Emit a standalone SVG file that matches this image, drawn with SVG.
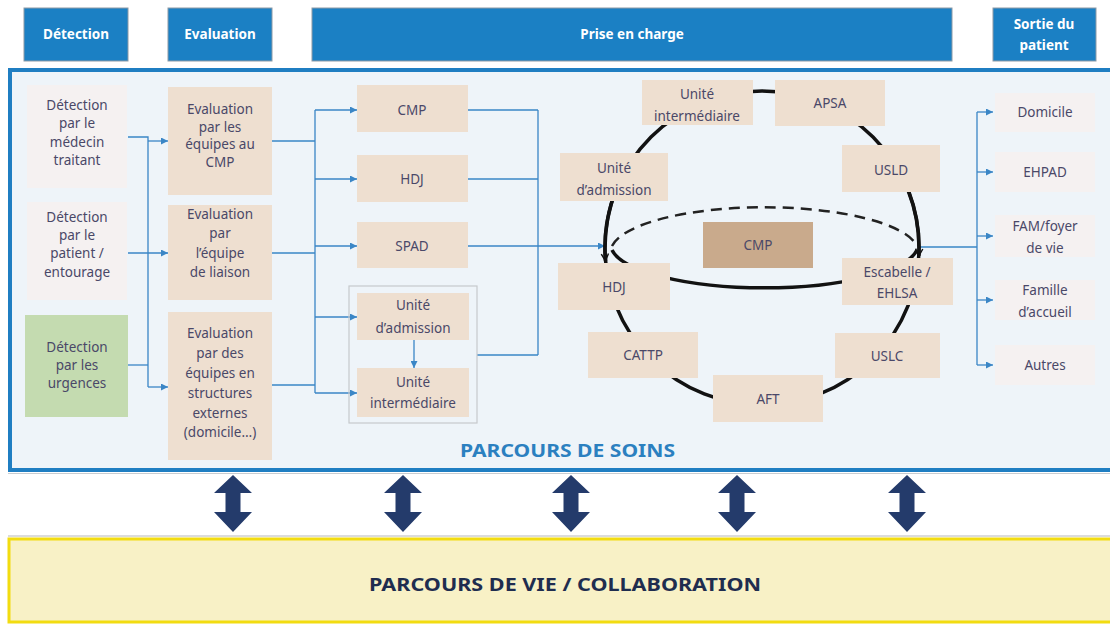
<svg xmlns="http://www.w3.org/2000/svg" width="1110" height="624" viewBox="0 0 1110 624">
<defs>
<style>
.hdr{fill:#1b80c4;stroke:#8d9aa6;stroke-width:1}
.ht{font-family:"Noto Sans",Lato,sans-serif;font-weight:bold;font-size:13.5px;fill:#ffffff;text-anchor:middle}
.tan{fill:#eedfd0}
.lite{fill:#f5f1f1}
.grn{fill:#c4dbb0}
.dark{fill:#c9aa8c}
.t{font-family:"Noto Sans",Lato,sans-serif;font-size:13.5px;fill:#4a4868;text-anchor:middle;dominant-baseline:central}
.c{fill:none;stroke:#3a86c6;stroke-width:1.3}
.ring{fill:none;stroke:#121212;stroke-width:3.5}
.dbl{fill:#243b6b}
</style>
<marker id="ab" viewBox="0 0 10 10" refX="10" refY="5" markerWidth="7" markerHeight="7" markerUnits="userSpaceOnUse" orient="auto">
<path d="M0,0 L10,5 L0,10 Z" fill="#3a86c6"/>
</marker>
<marker id="ak" viewBox="0 0 10 10" refX="9" refY="5" markerWidth="9" markerHeight="9" markerUnits="userSpaceOnUse" orient="auto">
<path d="M1,1 L9,5 L1,9" fill="none" stroke="#121212" stroke-width="1.6"/>
</marker>
</defs>
<rect width="1110" height="624" fill="#ffffff"/>

<g id="headers">
<rect class="hdr" x="24" y="8" width="104" height="53"/>
<text class="ht" x="76" y="39">Détection</text>
<rect class="hdr" x="168" y="8" width="104" height="53"/>
<text class="ht" x="220" y="39">Evaluation</text>
<rect class="hdr" x="312" y="8" width="640" height="53"/>
<text class="ht" x="632" y="39">Prise en charge</text>
<rect class="hdr" x="993" y="8" width="103" height="53"/>
<text class="ht" x="1044" y="29">Sortie du</text>
<text class="ht" x="1044" y="50">patient</text>
</g>

<g id="panel">
<rect x="10" y="70" width="1110" height="400" fill="#eef4f9" stroke="#1f7ec2" stroke-width="4"/>
<line x1="8" y1="473.5" x2="1110" y2="473.5" stroke="#c8ccd0" stroke-width="1"/>
<text x="460" y="457" font-family="'Noto Sans',Lato,sans-serif" font-weight="bold" font-size="17" fill="#2b80c0" textLength="215" lengthAdjust="spacingAndGlyphs">PARCOURS DE SOINS</text>
</g>

<g id="connectors">
<path class="c" d="M128,137 H148 V387"/>
<path class="c" d="M148,141 H168" marker-end="url(#ab)"/>
<path class="c" d="M128,253 H168" marker-end="url(#ab)"/>
<path class="c" d="M128,365 H148"/>
<path class="c" d="M148,387 H168" marker-end="url(#ab)"/>
<path class="c" d="M272,141 H315 M272,253 H315 M272,385 H315 M315,110 V393"/>
<path class="c" d="M315,110 H357" marker-end="url(#ab)"/>
<path class="c" d="M315,179 H357" marker-end="url(#ab)"/>
<path class="c" d="M315,246 H357" marker-end="url(#ab)"/>
<path class="c" d="M315,317 H357" marker-end="url(#ab)"/>
<path class="c" d="M315,393 H357" marker-end="url(#ab)"/>
<path class="c" d="M414,340 V368" marker-end="url(#ab)"/>
<path class="c" d="M468,110 H538 M468,179 H538 M477,355 H538 M538,110 V355"/>
<path class="c" d="M468,246 H605" marker-end="url(#ab)"/>
<path class="c" d="M920,247 H977 M977,112 V365"/>
<path class="c" d="M977,112 H993" marker-end="url(#ab)"/>
<path class="c" d="M977,172 H993" marker-end="url(#ab)"/>
<path class="c" d="M977,236 H993" marker-end="url(#ab)"/>
<path class="c" d="M977,300 H993" marker-end="url(#ab)"/>
<path class="c" d="M977,365 H993" marker-end="url(#ab)"/>
<circle class="ring" cx="762" cy="248" r="157"/>
<path class="ring" d="M612,201 A157,157 0 0 0 605.5,261" marker-end="url(#ak)"/>
<path class="ring" d="M909,192 A157,157 0 0 1 918.8,256" marker-end="url(#ak)"/>
<path d="M612,246 A154,45 0 0 1 917,246" fill="none" stroke="#222" stroke-width="2.5" stroke-dasharray="11 7"/>
<path class="ring" d="M612,250 A154,44 0 0 0 917,250"/>
</g>

<g id="det1"><rect class="lite" x="27" y="85" width="100" height="103"/>
<text class="t" x="77" y="105">Détection</text><text class="t" x="77" y="123">par le</text><text class="t" x="77" y="142">médecin</text><text class="t" x="77" y="160">traitant</text></g>
<g id="det2"><rect class="lite" x="27" y="202" width="100" height="98"/>
<text class="t" x="77" y="217">Détection</text><text class="t" x="77" y="235">par le</text><text class="t" x="77" y="253">patient /</text><text class="t" x="77" y="272">entourage</text></g>
<g id="det3"><rect class="grn" x="25" y="315" width="103" height="102"/>
<text class="t" x="77" y="347">Détection</text><text class="t" x="77" y="365">par les</text><text class="t" x="77" y="383">urgences</text></g>

<g id="eval1"><rect class="tan" x="168" y="87" width="104" height="108"/>
<text class="t" x="220" y="109">Evaluation</text><text class="t" x="220" y="127">par les</text><text class="t" x="220" y="144">équipes au</text><text class="t" x="220" y="162">CMP</text></g>
<g id="eval2"><rect class="tan" x="168" y="205" width="104" height="95"/>
<text class="t" x="220" y="214">Evaluation</text><text class="t" x="220" y="233">par</text><text class="t" x="220" y="253">l’équipe</text><text class="t" x="220" y="272">de liaison</text></g>
<g id="eval3"><rect class="tan" x="168" y="312" width="104" height="148"/>
<text class="t" x="220" y="333">Evaluation</text><text class="t" x="220" y="353">par des</text><text class="t" x="220" y="373">équipes en</text><text class="t" x="220" y="393">structures</text><text class="t" x="220" y="413">externes</text><text class="t" x="220" y="432">(domicile…)</text></g>

<g id="cmp1"><rect class="tan" x="357" y="85" width="111" height="47"/><text class="t" x="412" y="110">CMP</text></g>
<g id="hdj1"><rect class="tan" x="357" y="155" width="111" height="47"/><text class="t" x="412" y="179">HDJ</text></g>
<g id="spad"><rect class="tan" x="357" y="222" width="111" height="46"/><text class="t" x="412" y="246">SPAD</text></g>
<g id="hosp"><rect x="349" y="286" width="128" height="137" fill="none" stroke="#c6c9cc" stroke-width="1.2"/></g>
<g id="ua1"><rect class="tan" x="357" y="293" width="112" height="47"/>
<text class="t" x="413" y="305">Unité</text><text class="t" x="413" y="328">d’admission</text></g>
<g id="ui1"><rect class="tan" x="357" y="368" width="112" height="49"/>
<text class="t" x="413" y="382">Unité</text><text class="t" x="413" y="403">intermédiaire</text></g>

<g id="ui2"><rect class="tan" x="642" y="80" width="111" height="45"/>
<text class="t" x="697" y="94">Unité</text><text class="t" x="697" y="116">intermédiaire</text></g>
<g id="apsa"><rect class="tan" x="775" y="80" width="110" height="46"/><text class="t" x="830" y="103">APSA</text></g>
<g id="ua2"><rect class="tan" x="560" y="153" width="108" height="48"/>
<text class="t" x="614" y="168">Unité</text><text class="t" x="614" y="190">d’admission</text></g>
<g id="usld"><rect class="tan" x="842" y="145" width="98" height="47"/><text class="t" x="891" y="170">USLD</text></g>
<g id="cmp2"><rect class="dark" x="703" y="222" width="110" height="46"/><text class="t" x="758" y="245">CMP</text></g>
<g id="hdj2"><rect class="tan" x="558" y="263" width="112" height="47"/><text class="t" x="614" y="287">HDJ</text></g>
<g id="esc"><rect class="tan" x="842" y="258" width="111" height="47"/>
<text class="t" x="897" y="272">Escabelle /</text><text class="t" x="897" y="293">EHLSA</text></g>
<g id="cattp"><rect class="tan" x="588" y="332" width="110" height="46"/><text class="t" x="643" y="355">CATTP</text></g>
<g id="uslc"><rect class="tan" x="835" y="333" width="105" height="45"/><text class="t" x="887" y="356">USLC</text></g>
<g id="aft"><rect class="tan" x="713" y="375" width="110" height="47"/><text class="t" x="768" y="399">AFT</text></g>

<g id="domicile"><rect class="lite" x="995" y="93" width="100" height="39"/><text class="t" x="1045" y="112">Domicile</text></g>
<g id="ehpad"><rect class="lite" x="995" y="152" width="100" height="40"/><text class="t" x="1045" y="172">EHPAD</text></g>
<g id="fam"><rect class="lite" x="995" y="215" width="100" height="42"/>
<text class="t" x="1045" y="226">FAM/foyer</text><text class="t" x="1045" y="248">de vie</text></g>
<g id="famille"><rect class="lite" x="995" y="280" width="100" height="40"/>
<text class="t" x="1045" y="290">Famille</text><text class="t" x="1045" y="312">d’accueil</text></g>
<g id="autres"><rect class="lite" x="995" y="345" width="100" height="40"/><text class="t" x="1045" y="365">Autres</text></g>

<g id="links">
<path class="dbl" d="M233,475 L252,493 L240.5,493 L240.5,512 L252,512 L233,532 L214,512 L225.5,512 L225.5,493 L214,493 Z"/>
<path class="dbl" d="M403,475 L422,493 L410.5,493 L410.5,512 L422,512 L403,532 L384,512 L395.5,512 L395.5,493 L384,493 Z"/>
<path class="dbl" d="M571,475 L590,493 L578.5,493 L578.5,512 L590,512 L571,532 L552,512 L563.5,512 L563.5,493 L552,493 Z"/>
<path class="dbl" d="M737,475 L756,493 L744.5,493 L744.5,512 L756,512 L737,532 L718,512 L729.5,512 L729.5,493 L718,493 Z"/>
<path class="dbl" d="M907,475 L926,493 L914.5,493 L914.5,512 L926,512 L907,532 L888,512 L899.5,512 L899.5,493 L888,493 Z"/>
</g>

<g id="vie">
<line x1="8" y1="536" x2="1110" y2="536" stroke="#b8b8b8" stroke-width="1"/>
<rect x="9" y="539" width="1110" height="83" fill="#f8f1c6" stroke="#f2dc10" stroke-width="3"/>
<text x="565" y="591" font-family="'Noto Sans',Lato,sans-serif" font-weight="bold" font-size="18" fill="#1f2d4f" text-anchor="middle" textLength="392" lengthAdjust="spacingAndGlyphs">PARCOURS DE VIE / COLLABORATION</text>
</g>
</svg>
